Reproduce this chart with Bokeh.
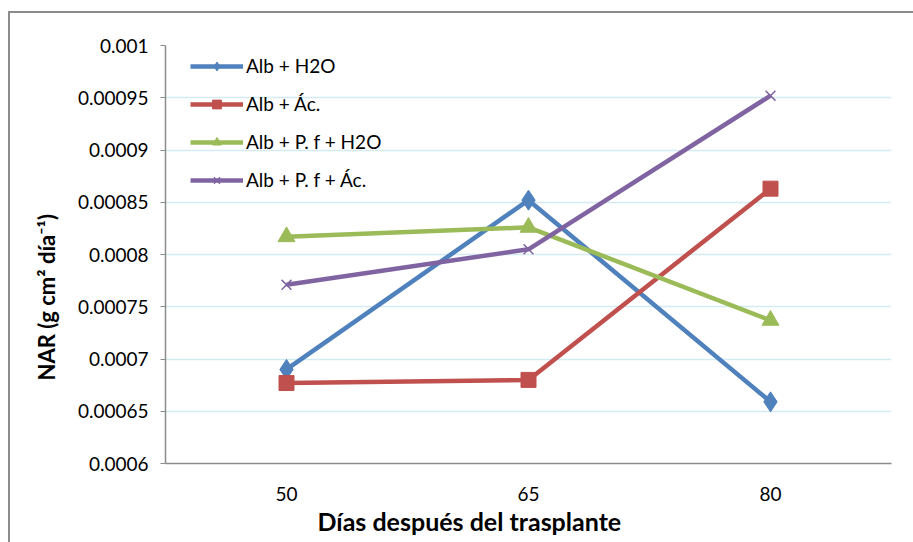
from bokeh.plotting import figure
from bokeh.models import (FactorRange, Range1d, FixedTicker, CustomJSTickFormatter,
                          Legend, LegendItem, Title)
from bokeh.embed import file_html
from bokeh.resources import INLINE

# NAR per treatment at each sampling date
dias = ["50", "65", "80"]
alb_h2o = [0.000690, 0.000852, 0.000659]
alb_ac = [0.000677, 0.000680, 0.000863]
alb_pf_h2o = [0.000817, 0.000826, 0.000737]
alb_pf_ac = [0.000771, 0.000805, 0.000952]
y_ticks = [0.0006, 0.00065, 0.0007, 0.00075, 0.0008, 0.00085, 0.0009, 0.00095, 0.001]

FONT = "Lato"
GREY = "#8c8c8c"

p = figure(width=913, height=542, x_range=FactorRange(*dias, range_padding=0),
           y_range=Range1d(0.0006, 0.001), output_backend="svg",
           toolbar_location=None, min_border_left=165, min_border_right=22,
           min_border_top=45, min_border_bottom=79)
p.outline_line_color = None
p.background_fill_color = "white"
p.border_fill_color = None
# chart-area border (top and left edges) painted behind the transparent canvas
p.styles = {
    "background": (f"linear-gradient({GREY},{GREY}) 8px 11px / 2000px 2px no-repeat, "
                   f"linear-gradient({GREY},{GREY}) 8px 11px / 2px 2000px no-repeat, white"),
}

p.xgrid.grid_line_color = None
p.ygrid.grid_line_color = "#d5ebf3"
p.ygrid.grid_line_width = 1.5

p.yaxis.ticker = FixedTicker(ticks=y_ticks)
p.yaxis.formatter = CustomJSTickFormatter(code="return String(parseFloat(tick.toFixed(6)));")

for ax in (p.xaxis, p.yaxis):
    ax.axis_line_color = GREY
    ax.axis_line_width = 1.5
    ax.major_label_text_font = FONT
    ax.major_label_text_font_size = "19px"
    ax.major_label_text_color = "black"
    ax.minor_tick_line_color = None

p.yaxis.major_tick_line_color = GREY
p.yaxis.major_tick_out = 5
p.yaxis.major_tick_in = 0
p.yaxis.major_label_standoff = 12

p.xaxis.major_tick_line_color = None
p.xaxis.major_label_standoff = 17

# axis titles, positioned relative to the whole chart area
p.add_layout(Title(text="Días después del trasplante", align="left", offset=152,
                   standoff=0, text_font=FONT, text_font_style="bold",
                   text_font_size="25px", text_color="black"), "below")
p.add_layout(Title(text="NAR  (g cm² día⁻¹)", align="left", offset=68,
                   standoff=0, padding=15, text_font=FONT, text_font_style="bold",
                   text_font_size="22px", text_color="black"), "left")

series = [
    ("Alb + H2O", alb_h2o, "#4f81bd", "diamond", 20),
    ("Alb + Ác.", alb_ac, "#c0504d", "square", 15),
    ("Alb + P. f + H2O", alb_pf_h2o, "#9bbb59", "triangle", 17),
    ("Alb + P. f + Ác.", alb_pf_ac, "#8064a2", "x", 14),
]

items = []
for name, vals, color, marker, size in series:
    r1 = p.line(dias, vals, line_color=color, line_width=4.5)
    r2 = p.scatter(dias, vals, marker=marker, size=size, fill_color=color,
                   line_color=color, line_width=1.5 if marker == "x" else 1)
    items.append(LegendItem(label=name, renderers=[r1, r2]))

legend = Legend(items=items, location=(25, 272), background_fill_alpha=0,
                border_line_color=None, spacing=15, glyph_width=53,
                glyph_height=22, label_text_font=FONT, label_text_font_size="19px",
                label_text_color="black", label_standoff=3, padding=6, margin=0)
p.add_layout(legend, "center")

open("out.html", "w").write(file_html(p, INLINE))
